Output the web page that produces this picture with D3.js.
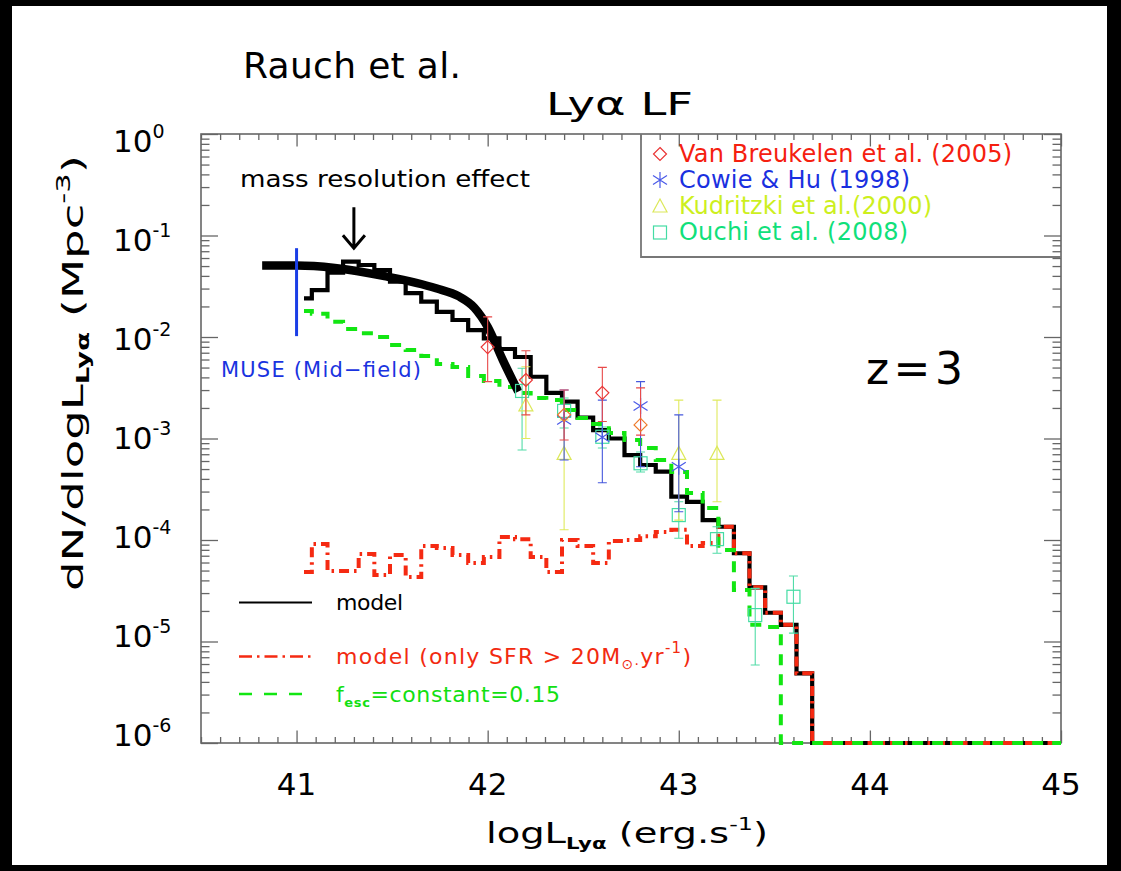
<!DOCTYPE html>
<html><head><meta charset="utf-8">
<script src="https://cdn.jsdelivr.net/npm/d3@7"></script>
<style>
html,body{margin:0;padding:0;background:#000;}
svg{display:block;}
text{font-family:"DejaVu Sans","Noto Sans",sans-serif;}
</style></head><body>
<svg id="chart" width="1121" height="871"></svg>
<script>
// ------------------------- DATA -------------------------
const xDomain = [40.5, 45];
const yDomain = [1e-6, 1];
const xTickValues = [41, 42, 43, 44, 45];
const yTickExponents = [0, -1, -2, -3, -4, -5, -6];

// histogram bin centres (log L_Lya)
const binCenters = [41.039, 41.121, 41.203, 41.284, 41.366, 41.448, 41.530, 41.612, 41.693, 41.775,
  41.857, 41.939, 42.021, 42.102, 42.184, 42.266, 42.348, 42.430, 42.511, 42.593,
  42.675, 42.757, 42.839, 42.920, 43.002, 43.084, 43.166, 43.248, 43.329, 43.411,
  43.493, 43.575, 43.657];
// model LF (black)
const modelLF = [0.0240, 0.0290, 0.0430, 0.0552, 0.0512, 0.0457, 0.0351, 0.0270, 0.0223, 0.0177,
  0.0147, 0.0117, 0.00970, 0.00762, 0.00635, 0.00406, 0.00281, 0.00231, 0.00161, 0.00121,
  0.00100, 6.87e-4, 5.48e-4, 4.71e-4, 2.67e-4, 2.38e-4, 1.57e-4, 1.35e-4, 7.40e-5, 3.42e-5,
  1.92e-5, 1.46e-5, 4.86e-6];
// model, only SFR > 20 Msun/yr (red dash-dot)
const modelSFR20 = [4.84e-5, 9.14e-5, 4.96e-5, 4.96e-5, 7.28e-5, 4.52e-5, 7.11e-5, 4.31e-5, 8.73e-5, 8.34e-5,
  7.11e-5, 5.93e-5, 6.81e-5, 1.07e-4, 1.02e-4, 6.81e-5, 4.84e-5, 1.00e-4, 8.73e-5, 5.93e-5,
  9.77e-5, 1.00e-4, 1.09e-4, 1.20e-4, 1.26e-4, 8.73e-5, 9.33e-5, 1.35e-4, 7.40e-5, 3.42e-5,
  1.92e-5, 1.46e-5, 4.86e-6];
// f_esc = constant = 0.15 (green dashed)
const modelFesc = [0.0180, 0.0169, 0.0141, 0.0120, 0.0109, 0.0100, 0.00834, 0.00745, 0.00650, 0.00542,
  0.00506, 0.00413, 0.00369, 0.00321, 0.00281, 0.00251, 0.00239, 0.00191, 0.00159, 0.00139,
  0.00113, 9.66e-4, 8.05e-4, 6.14e-4, 4.68e-4, 2.90e-4, 2.07e-4, 7.96e-5, 3.21e-5, 1.46e-5,
  1.39e-5, 0, 0];

// thick fit curve
const fitLogL = [40.82, 41.00, 41.20, 41.46, 41.73, 41.85, 41.93, 42.00, 42.08, 42.16];
const fitPhi  = [0.0505, 0.0506, 0.0479, 0.0398, 0.0302, 0.0251, 0.0195, 0.0126, 0.00589, 0.00289];

// observations
const vbLogL = [42.0, 42.2, 42.4, 42.6, 42.8];
const vbPhi = [7.96e-3, 3.77e-3, 1.71e-3, 2.82e-3, 1.36e-3];
const vbPhiLow = [3.63e-3, 1.71e-3, 9.66e-4, 1.47e-3, 1.08e-3];
const vbPhiHigh = [1.58e-2, 7.33e-3, 3.01e-3, 5.02e-3, 3.15e-3];

const chLogL = [42.4, 42.6, 42.8, 43.0];
const chPhi = [1.52e-3, 1.03e-3, 2.09e-3, 5.27e-4];
const chPhiLow = [6.14e-4, 3.67e-4, 5.27e-4, 1.90e-4];
const chPhiHigh = [3.01e-3, 2.39e-3, 3.63e-3, 1.71e-3];

const kuLogL = [42.2, 42.4, 43.0, 43.2];
const kuPhi = [2.14e-3, 7.14e-4, 7.14e-4, 7.14e-4];
const kuPhiLow = [1.00e-3, 1.26e-4, 1.57e-4, 2.38e-4];
const kuPhiHigh = [5.09e-3, 1.52e-3, 2.39e-3, 2.39e-3];

const ouLogL = [42.18, 42.4, 42.6, 42.8, 43.0, 43.2, 43.4, 43.6];
const ouPhi = [2.94e-3, 1.87e-3, 1.04e-3, 5.70e-4, 1.76e-4, 1.02e-4, 1.82e-5, 2.76e-5];
const ouPhiLow = [7.71e-4, 1.27e-3, 8.05e-4, 4.68e-4, 1.04e-4, 7.40e-5, 5.86e-6, 1.21e-5];
const ouPhiHigh = [4.92e-3, 2.51e-3, 1.30e-3, 7.36e-4, 2.38e-4, 1.35e-4, 3.34e-5, 4.42e-5];

const legendNames = ["Van Breukelen et al. (2005)", "Cowie & Hu (1998)", "Kudritzki et al.(2000)", "Ouchi et al. (2008)"];

// annotations (data coords)
const museLogL = 41.0, musePhi = [0.0102, 0.075];
const arrowLogL = 41.3, arrowPhi = [0.19, 0.075];

// ------------------------- CHART -------------------------
const W = 1121, H = 871;
const svg = d3.select('#chart');
svg.append('rect').attr('width', W).attr('height', H).attr('fill', '#000');
svg.append('rect').attr('x', 12).attr('y', 6).attr('width', 1095).attr('height', 859).attr('fill', '#fff');

const P = {left: 201, right: 1061, top: 134, bottom: 743};
const x = d3.scaleLinear().domain(xDomain).range([P.left, P.right]);
const y = d3.scaleLog().domain(yDomain).range([P.bottom, P.top]).clamp(true);

const AX = '#666';
function styleAxis(g) {
  g.select('.domain').remove();
  g.selectAll('.tick line').attr('stroke', AX).attr('stroke-width', 1.3);
  g.selectAll('.tick text').remove();
}
const minorX = d3.range(405, 451).filter(v => v % 10 !== 0).map(v => v / 10);
const minorY = [];
for (let e = -6; e < 0; e++) for (let m = 2; m <= 9; m++) minorY.push(m * Math.pow(10, e));
const majorY = yTickExponents.map(e => Math.pow(10, e));

svg.append('g').attr('transform', `translate(0,${P.bottom})`).call(d3.axisBottom(x).tickValues(xTickValues).tickSizeInner(-12.5).tickSizeOuter(0)).call(styleAxis);
svg.append('g').attr('transform', `translate(0,${P.bottom})`).call(d3.axisBottom(x).tickValues(minorX).tickSizeInner(-6).tickSizeOuter(0)).call(styleAxis);
svg.append('g').attr('transform', `translate(0,${P.top})`).call(d3.axisTop(x).tickValues(xTickValues).tickSizeInner(-12.5).tickSizeOuter(0)).call(styleAxis);
svg.append('g').attr('transform', `translate(0,${P.top})`).call(d3.axisTop(x).tickValues(minorX).tickSizeInner(-6).tickSizeOuter(0)).call(styleAxis);
svg.append('g').attr('transform', `translate(${P.left},0)`).call(d3.axisLeft(y).tickValues(majorY).tickSizeInner(-17).tickSizeOuter(0)).call(styleAxis);
svg.append('g').attr('transform', `translate(${P.left},0)`).call(d3.axisLeft(y).tickValues(minorY).tickSizeInner(-8.5).tickSizeOuter(0)).call(styleAxis);
svg.append('g').attr('transform', `translate(${P.right},0)`).call(d3.axisRight(y).tickValues(majorY).tickSizeInner(-17).tickSizeOuter(0)).call(styleAxis);
svg.append('g').attr('transform', `translate(${P.right},0)`).call(d3.axisRight(y).tickValues(minorY).tickSizeInner(-8.5).tickSizeOuter(0)).call(styleAxis);

// plot frame
svg.append('rect').attr('x', P.left).attr('y', P.top).attr('width', P.right - P.left).attr('height', P.bottom - P.top)
  .attr('fill', 'none').attr('stroke', AX).attr('stroke-width', 1.6);
// legend box (top-right)
svg.append('path').attr('d', `M641,${P.top} V257 H${P.right}`).attr('fill', 'none').attr('stroke', '#777').attr('stroke-width', 1.8);

// ---------- text helper ----------
function addText(parent, px, py, parts, o) {
  const t = parent.append('text').attr('x', px).attr('y', py)
    .attr('fill', o.fill || '#000').attr('font-size', o.size)
    .attr('text-anchor', o.anchor || 'start');
  if (o.len) t.attr('textLength', o.len).attr('lengthAdjust', o.adj || 'spacing');
  if (o.transform) t.attr('transform', o.transform);
  if (o.ls) t.attr('letter-spacing', o.ls);
  if (typeof parts === 'string') parts = [{t: parts}];
  parts.forEach(p => {
    const s = t.append('tspan').text(p.t);
    if (p.size) s.attr('font-size', p.size);
    if (p.dy) s.attr('dy', p.dy);
    if (p.w) s.attr('font-weight', p.w);
    if (p.ls !== undefined) s.attr('letter-spacing', p.ls);
  });
  return t;
}

// ---------- histograms ----------
const stepLine = d3.line().x(d => x(d[0])).y(d => y(d[1])).curve(d3.curveStep);
function histPoints(vals) {
  const pts = binCenters.map((c, i) => [c, vals[i]]);
  const n = binCenters.length;
  const w = binCenters[n - 1] - binCenters[n - 2];
  pts.push([binCenters[n - 1] + w, 0]);
  pts.push([xDomain[1], 0]);
  return pts;
}
svg.append('path').attr('d', stepLine(histPoints(modelLF))).attr('fill', 'none')
  .attr('stroke', '#000').attr('stroke-width', 4.2).attr('stroke-linejoin', 'miter');
svg.append('path').attr('d', stepLine(histPoints(modelSFR20))).attr('fill', 'none')
  .attr('stroke', '#f52a12').attr('stroke-width', 4).attr('stroke-dasharray', '10,5,2.5,5');
svg.append('path').attr('d', stepLine(histPoints(modelFesc))).attr('fill', 'none')
  .attr('stroke', '#12e612').attr('stroke-width', 4).attr('stroke-dasharray', '11,9');

// thick fit curve
const fitLine = d3.line().x(d => x(d[0])).y(d => y(d[1])).curve(d3.curveMonotoneX);
svg.append('path').attr('d', fitLine(fitLogL.map((v, i) => [v, fitPhi[i]]))).attr('fill', 'none')
  .attr('stroke', '#000').attr('stroke-width', 8.5).attr('stroke-linecap', 'butt');

// MUSE line
svg.append('line').attr('x1', x(museLogL)).attr('x2', x(museLogL)).attr('y1', y(musePhi[0])).attr('y2', y(musePhi[1]))
  .attr('stroke', '#1a3ee6').attr('stroke-width', 3);

// arrow
const ax = x(arrowLogL), ay1 = y(arrowPhi[0]), ay2 = y(arrowPhi[1]);
svg.append('path').attr('d', `M${ax},${ay1} V${ay2} M${ax - 11},${ay2 - 13} L${ax},${ay2} L${ax + 11},${ay2 - 13}`)
  .attr('fill', 'none').attr('stroke', '#000').attr('stroke-width', 3);

// ---------- markers ----------
function drawMarker(g, type, cx, cy, color) {
  if (type === 'diamond') {
    g.append('path').attr('d', `M${cx},${cy - 6.5} L${cx + 6.5},${cy} L${cx},${cy + 6.5} L${cx - 6.5},${cy} Z`)
      .attr('fill', 'none').attr('stroke', color).attr('stroke-width', 1.2);
  } else if (type === 'square') {
    g.append('rect').attr('x', cx - 6.5).attr('y', cy - 6.5).attr('width', 13).attr('height', 13)
      .attr('fill', 'none').attr('stroke', color).attr('stroke-width', 1.2);
  } else if (type === 'triangle') {
    g.append('path').attr('d', `M${cx},${cy - 7} L${cx + 7},${cy + 6} L${cx - 7},${cy + 6} Z`)
      .attr('fill', 'none').attr('stroke', color).attr('stroke-width', 1.2);
  } else if (type === 'asterisk') {
    g.append('path').attr('d', `M${cx},${cy - 8} V${cy + 8} M${cx - 7},${cy - 4.5} L${cx + 7},${cy + 4.5} M${cx - 7},${cy + 4.5} L${cx + 7},${cy - 4.5}`)
      .attr('fill', 'none').attr('stroke', color).attr('stroke-width', 1.2);
  }
}
function drawSeries(lx, phi, lo, hi, type, colorFn, barColor) {
  const g = svg.append('g');
  lx.forEach((l, i) => {
    const cx = x(l), yl = y(lo[i]), yh = y(hi[i]);
    g.append('path').attr('d', `M${cx},${yh} V${yl} M${cx - 4.5},${yh} H${cx + 4.5} M${cx - 4.5},${yl} H${cx + 4.5}`)
      .attr('fill', 'none').attr('stroke', barColor).attr('stroke-width', 1.1);
    drawMarker(g, type, cx, y(phi[i]), colorFn(i));
  });
}
const seriesStyle = [
  {type: 'diamond', mark: '#ea3434', bar: '#e84a4a', text: '#f5200f'},
  {type: 'asterisk', mark: '#4a5ae8', bar: '#4658dd', text: '#1a30e0'},
  {type: 'triangle', mark: '#dce85a', bar: '#e0ea5e', text: '#cdef1e'},
  {type: 'square', mark: '#44dca4', bar: '#52dca8', text: '#10e07a'}
];
// in the picture two of the diamonds render orange (overlap with other symbols)
const vbOrangeIdx = [2, 4];
drawSeries(ouLogL, ouPhi, ouPhiLow, ouPhiHigh, 'square', () => seriesStyle[3].mark, seriesStyle[3].bar);
drawSeries(kuLogL, kuPhi, kuPhiLow, kuPhiHigh, 'triangle', () => seriesStyle[2].mark, seriesStyle[2].bar);
drawSeries(chLogL, chPhi, chPhiLow, chPhiHigh, 'asterisk', () => seriesStyle[1].mark, seriesStyle[1].bar);
drawSeries(vbLogL, vbPhi, vbPhiLow, vbPhiHigh, 'diamond', i => vbOrangeIdx.includes(i) ? '#ee7a2a' : seriesStyle[0].mark, seriesStyle[0].bar);

// top-right legend
const legBase = [161.5, 187.5, 213.5, 240];
const legLen = [333, 231, 253, 229];
legendNames.forEach((nm, i) => {
  drawMarker(svg, seriesStyle[i].type, 660, legBase[i] - 7.5, seriesStyle[i].mark);
  addText(svg, 679, legBase[i], nm, {size: 24, fill: seriesStyle[i].text, len: legLen[i]});
});

// bottom-left legend
svg.append('line').attr('x1', 239).attr('x2', 312).attr('y1', 602.5).attr('y2', 602.5).attr('stroke', '#000').attr('stroke-width', 2.2);
addText(svg, 336, 610, 'model', {size: 22, len: 67});
svg.append('line').attr('x1', 239).attr('x2', 312).attr('y1', 656.5).attr('y2', 656.5).attr('stroke', '#f52a12').attr('stroke-width', 2.4).attr('stroke-dasharray', '13,5,2.5,5');
addText(svg, 336, 663.5, [
  {t: 'model (only SFR > 20M'},
  {t: '\u2299\u00b7', size: 14, dy: 5},
  {t: 'yr', size: 22, dy: -5},
  {t: '-1', size: 15, dy: -11},
  {t: ')', size: 22, dy: 11}
], {size: 22, fill: '#f22a10', len: 355});
svg.append('line').attr('x1', 239).attr('x2', 302).attr('y1', 694).attr('y2', 694).attr('stroke', '#12e612').attr('stroke-width', 2.4).attr('stroke-dasharray', '13,12');
addText(svg, 336, 701.5, [
  {t: 'f'},
  {t: 'esc', size: 13, dy: 5, w: 'bold'},
  {t: '=constant=0.15', size: 22, dy: -5}
], {size: 22, fill: '#12e012', len: 224});

// annotations
addText(svg, 240, 186.5, 'mass resolution effect', {size: 23, len: 290, adj: 'spacingAndGlyphs'});
addText(svg, 221, 377, 'MUSE (Mid\u2212field)', {size: 21, fill: '#1a33e0', len: 200});
addText(svg, 866, 384, 'z=3', {size: 44, len: 97});

// titles
addText(svg, 243, 78, 'Rauch et al.', {size: 36, len: 218});
addText(svg, 546, 115, 'Ly\u03b1  LF', {size: 32, len: 147, adj: 'spacingAndGlyphs'});

// tick labels
xTickValues.forEach(v => addText(svg, x(v), 795, String(v), {size: 31, anchor: 'middle'}));
yTickExponents.forEach((e, i) => {
  const base = 152 + i * 99;
  addText(svg, 113, base, [
    {t: '10'},
    {t: String(e), size: 19, dy: -14}
  ], {size: 31});
});

// axis titles
addText(svg, 486, 843, [
  {t: 'logL'},
  {t: 'Ly\u03b1', size: 16, dy: 6, w: 'bold'},
  {t: ' (erg.s', size: 29, dy: -6},
  {t: '-1', size: 18, dy: -13},
  {t: ')', size: 29, dy: 13}
], {size: 29, len: 282, adj: 'spacingAndGlyphs'});
addText(svg, 0, 0, [
  {t: 'dN/dlogL'},
  {t: 'Ly\u03b1', size: 17, dy: 6, w: 'bold'},
  {t: '  (Mpc', size: 29, dy: -6},
  {t: '-3', size: 19, dy: -13},
  {t: ')', size: 29, dy: 13}
], {size: 29, anchor: 'middle', len: 436, adj: 'spacingAndGlyphs', transform: 'translate(83,373) rotate(-90)'});
</script>
</body></html>
